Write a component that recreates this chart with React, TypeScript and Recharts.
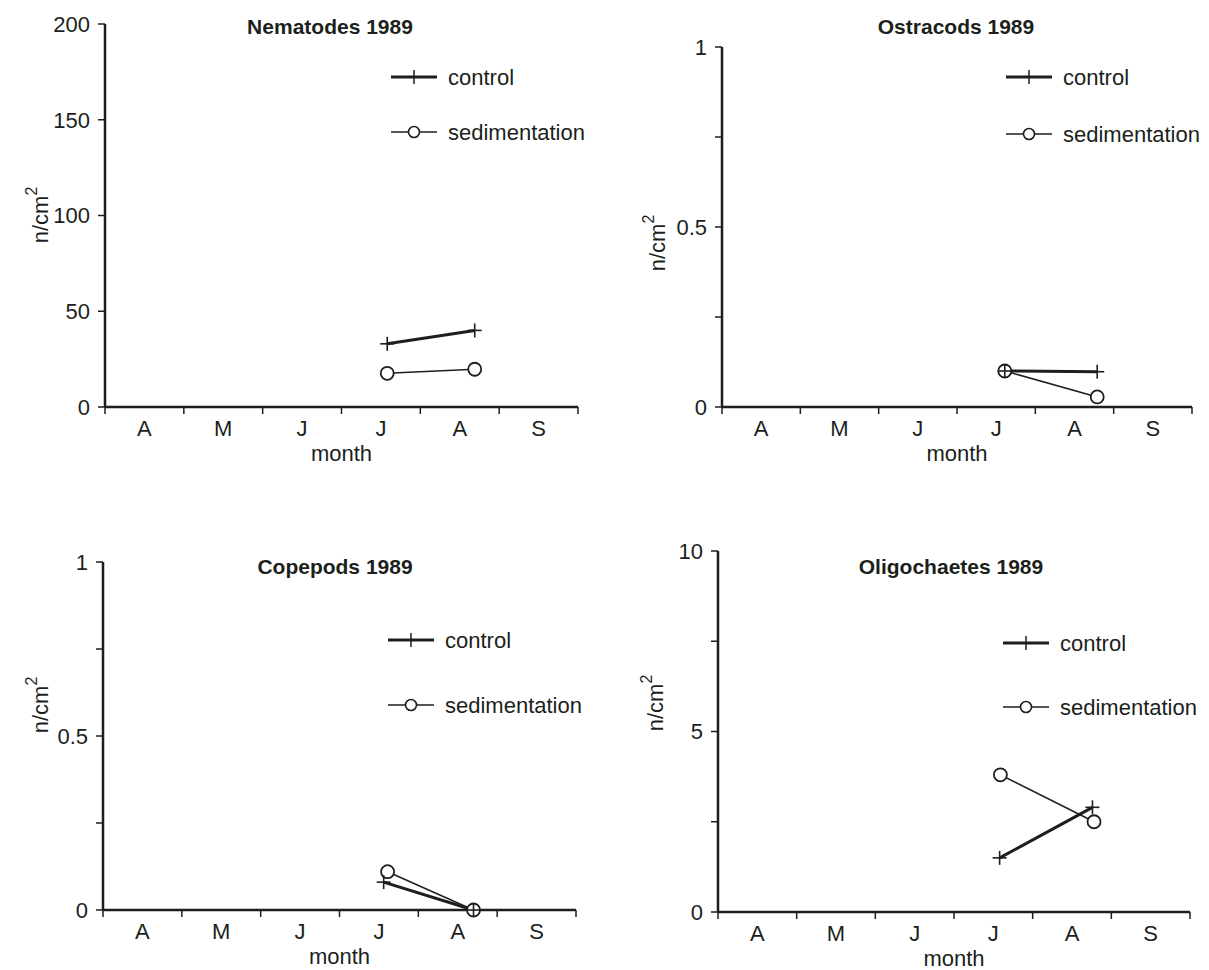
import React from 'react'
import { LineChart, Line, XAxis, YAxis, Legend } from 'recharts'

// month categories along the x axis (April..September)
const months = ['A', 'M', 'J', 'J', 'A', 'S']
const seriesNames = ['control', 'sedimentation']

// x values are positions in months (0 = start of April)
const nemDays = [3.58, 4.69]
const nemControl = [33, 40]
const nemSed = [17.6, 19.7]
const nemTicks = [0, 50, 100, 150, 200]
const nemLabels = [0, 50, 100, 150, 200]

const ostDays = [3.61, 4.79]
const ostControl = [0.1, 0.098]
const ostSed = [0.1, 0.028]
const ostTicks = [0, 0.25, 0.5, 0.75, 1]
const ostLabels = [0, 0.5, 1]

const copControlDays = [3.56, 4.7]
const copSedDays = [3.61, 4.7]
const copControl = [0.08, 0]
const copSed = [0.11, 0]
const copTicks = [0, 0.25, 0.5, 0.75, 1]
const copLabels = [0, 0.5, 1]

const oliControlDays = [3.58, 4.76]
const oliSedDays = [3.59, 4.78]
const oliControl = [1.5, 2.9]
const oliSed = [3.8, 2.5]
const oliTicks = [0, 2.5, 5, 7.5, 10]
const oliLabels = [0, 5, 10]

const xTicks = [0, 0.5, 1, 1.5, 2, 2.5, 3, 3.5, 4, 4.5, 5, 5.5, 6]

const INK = '#1c1f1c'
const FONT = '"Liberation Sans", Arial, Helvetica, sans-serif'

const pts = (xs: number[], ys: number[]) => xs.map((x, i) => ({ x, y: ys[i] }))

function MonthTick(props: any) {
  const { x, y, payload } = props
  const v = payload.value as number
  if (Number.isInteger(v)) {
    return <line x1={x} y1={y} x2={x} y2={y + 7} stroke={INK} strokeWidth={1.5} />
  }
  return (
    <text x={x} y={y + 29} textAnchor="middle" fontSize={22} fill={INK} fontFamily={FONT}>
      {months[Math.floor(v)]}
    </text>
  )
}

function PlusDot(props: any) {
  const { cx, cy } = props
  if (cx == null || cy == null) return null
  return (
    <g>
      <line x1={cx - 7} y1={cy} x2={cx + 7} y2={cy} stroke={INK} strokeWidth={1.6} />
      <line x1={cx} y1={cy - 7} x2={cx} y2={cy + 7} stroke={INK} strokeWidth={1.6} />
    </g>
  )
}

function CircleDot(props: any) {
  const { cx, cy } = props
  if (cx == null || cy == null) return null
  return <circle cx={cx} cy={cy} r={6.5} fill="#fff" stroke={INK} strokeWidth={1.8} />
}

function KeyBox({ gap }: { gap: number }) {
  return (
    <svg width={230} height={gap + 24} style={{ overflow: 'visible' }}>
      <line x1={0} y1={12} x2={46} y2={12} stroke={INK} strokeWidth={3} />
      <line x1={23} y1={5} x2={23} y2={19} stroke={INK} strokeWidth={1.5} />
      <text x={57} y={12} dominantBaseline="central" fontSize={22} fill={INK} fontFamily={FONT}>
        {seriesNames[0]}
      </text>
      <line x1={0} y1={12 + gap} x2={46} y2={12 + gap} stroke={INK} strokeWidth={1.5} />
      <circle cx={23} cy={12 + gap} r={5.5} fill="#fff" stroke={INK} strokeWidth={1.6} />
      <text x={57} y={12 + gap} dominantBaseline="central" fontSize={22} fill={INK} fontFamily={FONT}>
        {seriesNames[1]}
      </text>
    </svg>
  )
}

interface PanelProps {
  title: string
  control: { x: number; y: number }[]
  sed: { x: number; y: number }[]
  yMax: number
  yTicks: number[]
  yLabels: number[]
  left: number
  top: number
  width: number
  height: number
  margin: { top: number; right: number; left: number; bottom: number }
  yAxisWidth: number
  xAxisHeight: number
  titleX: number
  titleY: number
  legendX: number
  legendY: number
  legendGap: number
  yLabelX: number
  yLabelY: number
}

function Panel(p: PanelProps) {
  return (
    <div style={{ position: 'absolute', left: p.left, top: p.top, width: p.width, height: p.height }}>
      <LineChart width={p.width} height={p.height} margin={p.margin}>
        <XAxis
          dataKey="x"
          type="number"
          domain={[0, 6]}
          ticks={xTicks}
          interval={0}
          tickSize={0}
          tickMargin={0}
          tickLine={false}
          tick={<MonthTick />}
          axisLine={{ stroke: INK, strokeWidth: 2.5 }}
          height={p.xAxisHeight}
          allowDataOverflow
          label={{
            content: (lp: any) => {
              const vb = lp.viewBox || {}
              return (
                <text
                  x={vb.x + vb.width / 2}
                  y={vb.y + 54}
                  textAnchor="middle"
                  fontSize={22}
                  fill={INK}
                  fontFamily={FONT}
                >
                  month
                </text>
              )
            },
          }}
        />
        <YAxis
          type="number"
          domain={[0, p.yMax]}
          ticks={p.yTicks}
          interval={0}
          width={p.yAxisWidth}
          tickSize={7}
          tickMargin={8}
          tickLine={{ stroke: INK, strokeWidth: 1.5 }}
          axisLine={{ stroke: INK, strokeWidth: 2.5 }}
          tick={{ fill: INK, fontSize: 22, fontFamily: FONT }}
          tickFormatter={(v: number) => (p.yLabels.includes(v) ? String(v) : '')}
          label={{
            content: () => (
              <text
                x={p.yLabelX - p.left}
                y={p.yLabelY - p.top}
                transform={`rotate(-90 ${p.yLabelX - p.left} ${p.yLabelY - p.top})`}
                textAnchor="middle"
                dominantBaseline="central"
                fontSize={22}
                fill={INK}
                fontFamily={FONT}
              >
                n/cm<tspan dy={-9} fontSize={16}>2</tspan>
              </text>
            ),
          }}
        />
        <Legend
          layout="horizontal"
          verticalAlign="middle"
          align="center"
          content={() => <KeyBox gap={p.legendGap} />}
          wrapperStyle={{
            left: p.legendX - p.left,
            top: p.legendY - p.top - 12,
            width: 230,
            height: p.legendGap + 24,
          }}
        />
        <Line
          data={p.sed}
          dataKey="y"
          name={seriesNames[1]}
          stroke={INK}
          strokeWidth={1.5}
          dot={<CircleDot />}
          activeDot={false}
          isAnimationActive={false}
        />
        <Line
          data={p.control}
          dataKey="y"
          name={seriesNames[0]}
          stroke={INK}
          strokeWidth={3}
          dot={<PlusDot />}
          activeDot={false}
          isAnimationActive={false}
        />
      </LineChart>
      <div
        style={{
          position: 'absolute',
          left: p.titleX - p.left - 150,
          top: p.titleY - p.top - 13,
          width: 300,
          textAlign: 'center',
          fontFamily: FONT,
          fontWeight: 700,
          fontSize: 21,
          lineHeight: '26px',
          color: INK,
        }}
      >
        {p.title}
      </div>
    </div>
  )
}

export default function App() {
  return (
    <div style={{ position: 'absolute', left: 0, top: 0, width: 1209, height: 970, background: '#fff' }}>
      <Panel
        title="Nematodes 1989"
        control={pts(nemDays, nemControl)}
        sed={pts(nemDays, nemSed)}
        yMax={200}
        yTicks={nemTicks}
        yLabels={nemLabels}
        left={0}
        top={0}
        width={600}
        height={470}
        margin={{ top: 24, right: 22, left: 0, bottom: 0 }}
        yAxisWidth={105}
        xAxisHeight={63}
        titleX={330}
        titleY={27}
        legendX={391}
        legendY={77}
        legendGap={55}
        yLabelX={40}
        yLabelY={215}
      />
      <Panel
        title="Ostracods 1989"
        control={pts(ostDays, ostControl)}
        sed={pts(ostDays, ostSed)}
        yMax={1}
        yTicks={ostTicks}
        yLabels={ostLabels}
        left={600}
        top={0}
        width={609}
        height={470}
        margin={{ top: 47, right: 17, left: 0, bottom: 0 }}
        yAxisWidth={122}
        xAxisHeight={63}
        titleX={956}
        titleY={27}
        legendX={1006}
        legendY={77}
        legendGap={57}
        yLabelX={657}
        yLabelY={243}
      />
      <Panel
        title="Copepods 1989"
        control={pts(copControlDays, copControl)}
        sed={pts(copSedDays, copSed)}
        yMax={1}
        yTicks={copTicks}
        yLabels={copLabels}
        left={0}
        top={480}
        width={600}
        height={490}
        margin={{ top: 82, right: 24, left: 0, bottom: 0 }}
        yAxisWidth={103}
        xAxisHeight={60}
        titleX={335}
        titleY={567}
        legendX={388}
        legendY={640}
        legendGap={65}
        yLabelX={40}
        yLabelY={705}
      />
      <Panel
        title="Oligochaetes 1989"
        control={pts(oliControlDays, oliControl)}
        sed={pts(oliSedDays, oliSed)}
        yMax={10}
        yTicks={oliTicks}
        yLabels={oliLabels}
        left={600}
        top={480}
        width={609}
        height={490}
        margin={{ top: 71, right: 19, left: 0, bottom: 0 }}
        yAxisWidth={118}
        xAxisHeight={58}
        titleX={951}
        titleY={567}
        legendX={1003}
        legendY={643}
        legendGap={64}
        yLabelX={655}
        yLabelY={703}
      />
    </div>
  )
}
